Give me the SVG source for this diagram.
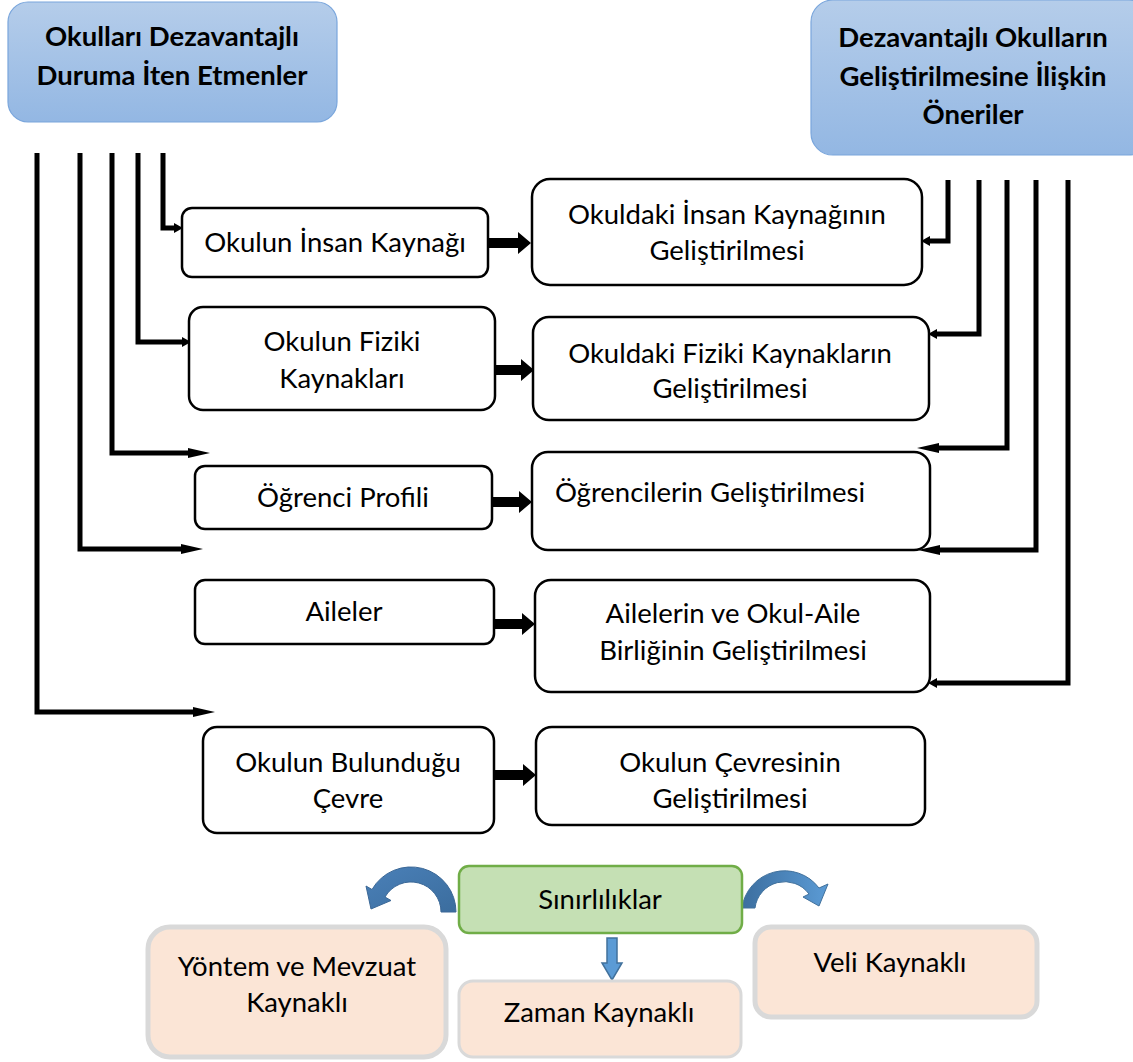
<svg xmlns="http://www.w3.org/2000/svg" width="1133" height="1062" viewBox="0 0 1133 1062">
<style>
  text { font-family: Lato, "Open Sans", "Liberation Sans", sans-serif; fill: #000; text-anchor: middle; }
  .t { font-size: 27.5px; }
  .h { font-size: 27.5px; font-weight: bold; }
  .box { fill: #fff; stroke: #000; stroke-width: 2.5; }
  .hdr { fill: url(#hg); stroke: #7aa6dc; stroke-width: 1.2; }
  .conn { fill: none; stroke: #000; stroke-width: 5; stroke-linejoin: miter; }
  .blk { fill: #000; }
  .lim { fill: #c5e0b4; stroke: #70ad47; stroke-width: 2.5; }
  .res { fill: #fbe5d6; stroke: #d9d9d9; stroke-width: 5; }
  .barrow { fill: #5b9bd5; stroke: #41719c; stroke-width: 1.5; }
</style>
<defs>
  <linearGradient id="hg" x1="0" y1="0" x2="0" y2="1">
    <stop offset="0" stop-color="#b5cdea"/>
    <stop offset="1" stop-color="#93b7e3"/>
  </linearGradient>
  <linearGradient id="lg" x1="1" y1="1" x2="0" y2="0">
    <stop offset="0" stop-color="#3b6d9e"/>
    <stop offset="1" stop-color="#4a80b8"/>
  </linearGradient>
  <linearGradient id="rg" x1="0" y1="1" x2="1" y2="1">
    <stop offset="0" stop-color="#3c6e9f"/>
    <stop offset="1" stop-color="#5b9bd5"/>
  </linearGradient>
  <marker id="ah" markerUnits="userSpaceOnUse" markerWidth="24" markerHeight="12" refX="0" refY="6" orient="auto" viewBox="0 0 24 12">
    <path d="M0,1 L22,6 L0,11 Z" fill="#000"/>
  </marker>
  <marker id="ahs" markerUnits="userSpaceOnUse" markerWidth="10" markerHeight="12" refX="0" refY="6" orient="auto" viewBox="0 0 10 12">
    <path d="M0,1 L9,6 L0,11 Z" fill="#000"/>
  </marker>
</defs>

<g id="hdr-left">
  <rect class="hdr" x="8" y="2" width="329" height="120" rx="20"/>
  <text class="h" x="172" y="46">Okulları Dezavantajlı</text>
  <text class="h" x="172" y="85">Duruma İten Etmenler</text>
</g>
<g id="hdr-right">
  <rect class="hdr" x="811" y="0" width="340" height="155" rx="22"/>
  <text class="h" x="973" y="47">Dezavantajlı Okulların</text>
  <text class="h" x="973" y="86">Geliştirilmesine İlişkin</text>
  <text class="h" x="973" y="124">Öneriler</text>
</g>

<g id="connectors">
  <path class="conn" d="M163,153 V228 H174" marker-end="url(#ahs)"/>
  <path class="conn" d="M138,153 V342 H182" marker-end="url(#ahs)"/>
  <path class="conn" d="M112,153 V453 H188" marker-end="url(#ah)"/>
  <path class="conn" d="M80,153 V549 H181" marker-end="url(#ah)"/>
  <path class="conn" d="M37,153 V712 H193" marker-end="url(#ah)"/>
  <path class="conn" d="M948,180 V241 H930" marker-end="url(#ahs)"/>
  <path class="conn" d="M979,180 V334 H937" marker-end="url(#ahs)"/>
  <path class="conn" d="M1007,180 V448 H939" marker-end="url(#ah)"/>
  <path class="conn" d="M1036,180 V550 H940" marker-end="url(#ah)"/>
  <path class="conn" d="M1068,180 V683 H937" marker-end="url(#ahs)"/>
  <path class="blk" d="M488,238 H518 V232 L531,243 L518,254 V248 H488 Z"/>
  <path class="blk" d="M495,365 H521 V359 L534,370 L521,381 V375 H495 Z"/>
  <path class="blk" d="M492,497 H519 V491 L532,502 L519,513 V507 H492 Z"/>
  <path class="blk" d="M492,619 H522 V613 L535,624 L522,635 V629 H492 Z"/>
  <path class="blk" d="M494,770 H523 V764 L536,775 L523,786 V780 H494 Z"/>
  <path fill="url(#lg)" stroke="#3a6796" stroke-width="1" d="M456,912 A45,45 0 0 0 372,889.5 L366,886 L371,909 L391,900.5 L385,897 A30,30 0 0 1 441,912 Z"/>
  <path fill="url(#rg)" stroke="#41719c" stroke-width="1" d="M742,908 A43,43 0 0 1 819,888 L828,884 L819,906 L803,897 L809,894 A30,30 0 0 0 755,908 Z"/>
  <path class="barrow" d="M607,938 H617 V963 H622 L612,980 L602,963 H607 Z"/>
</g>

<g id="n-insan">
  <rect class="box" x="182" y="208" width="306" height="69" rx="10"/>
  <text class="t" x="335" y="252">Okulun İnsan Kaynağı</text>
</g>
<g id="n-fiziki">
  <rect class="box" x="189" y="307" width="306" height="103" rx="14"/>
  <text class="t" x="342" y="351">Okulun Fiziki</text>
  <text class="t" x="342" y="388">Kaynakları</text>
</g>
<g id="n-ogrenci">
  <rect class="box" x="195" y="466" width="297" height="63" rx="10"/>
  <text class="t" x="343" y="507">Öğrenci Profili</text>
</g>
<g id="n-aileler">
  <rect class="box" x="195" y="580" width="299" height="64" rx="10"/>
  <text class="t" x="344" y="621">Aileler</text>
</g>
<g id="n-cevre">
  <rect class="box" x="203" y="727" width="291" height="106" rx="14"/>
  <text class="t" x="348" y="772">Okulun Bulunduğu</text>
  <text class="t" x="348" y="808">Çevre</text>
</g>

<g id="n-insan-gel">
  <rect class="box" x="532" y="179" width="390" height="106" rx="18"/>
  <text class="t" x="727" y="224">Okuldaki İnsan Kaynağının</text>
  <text class="t" x="727" y="260">Geliştirilmesi</text>
</g>
<g id="n-fiziki-gel">
  <rect class="box" x="533" y="317" width="396" height="103" rx="16"/>
  <text class="t" x="730" y="363">Okuldaki Fiziki Kaynakların</text>
  <text class="t" x="730" y="398">Geliştirilmesi</text>
</g>
<g id="n-ogrenci-gel">
  <rect class="box" x="532" y="452" width="398" height="98" rx="16"/>
  <text class="t" x="710" y="502">Öğrencilerin Geliştirilmesi</text>
</g>
<g id="n-aile-gel">
  <rect class="box" x="535" y="580" width="395" height="112" rx="16"/>
  <text class="t" x="733" y="623">Ailelerin ve Okul-Aile</text>
  <text class="t" x="733" y="660">Birliğinin Geliştirilmesi</text>
</g>
<g id="n-cevre-gel">
  <rect class="box" x="536" y="727" width="389" height="98" rx="16"/>
  <text class="t" x="730" y="772">Okulun Çevresinin</text>
  <text class="t" x="730" y="808">Geliştirilmesi</text>
</g>

<g id="n-sinir">
  <rect class="lim" x="459" y="866" width="283" height="67" rx="10"/>
  <text class="t" x="600" y="909">Sınırlılıklar</text>
</g>
<g id="n-yontem">
  <rect class="res" x="148" y="927" width="298" height="130" rx="22"/>
  <text class="t" x="297" y="976">Yöntem ve Mevzuat</text>
  <text class="t" x="297" y="1012">Kaynaklı</text>
</g>
<g id="n-zaman">
  <rect class="res" x="459" y="981" width="282" height="76" rx="14" style="stroke-width:3"/>
  <text class="t" x="599" y="1022">Zaman Kaynaklı</text>
</g>
<g id="n-veli">
  <rect class="res" x="755" y="927" width="282" height="90" rx="16"/>
  <text class="t" x="890" y="972">Veli Kaynaklı</text>
</g>
</svg>
